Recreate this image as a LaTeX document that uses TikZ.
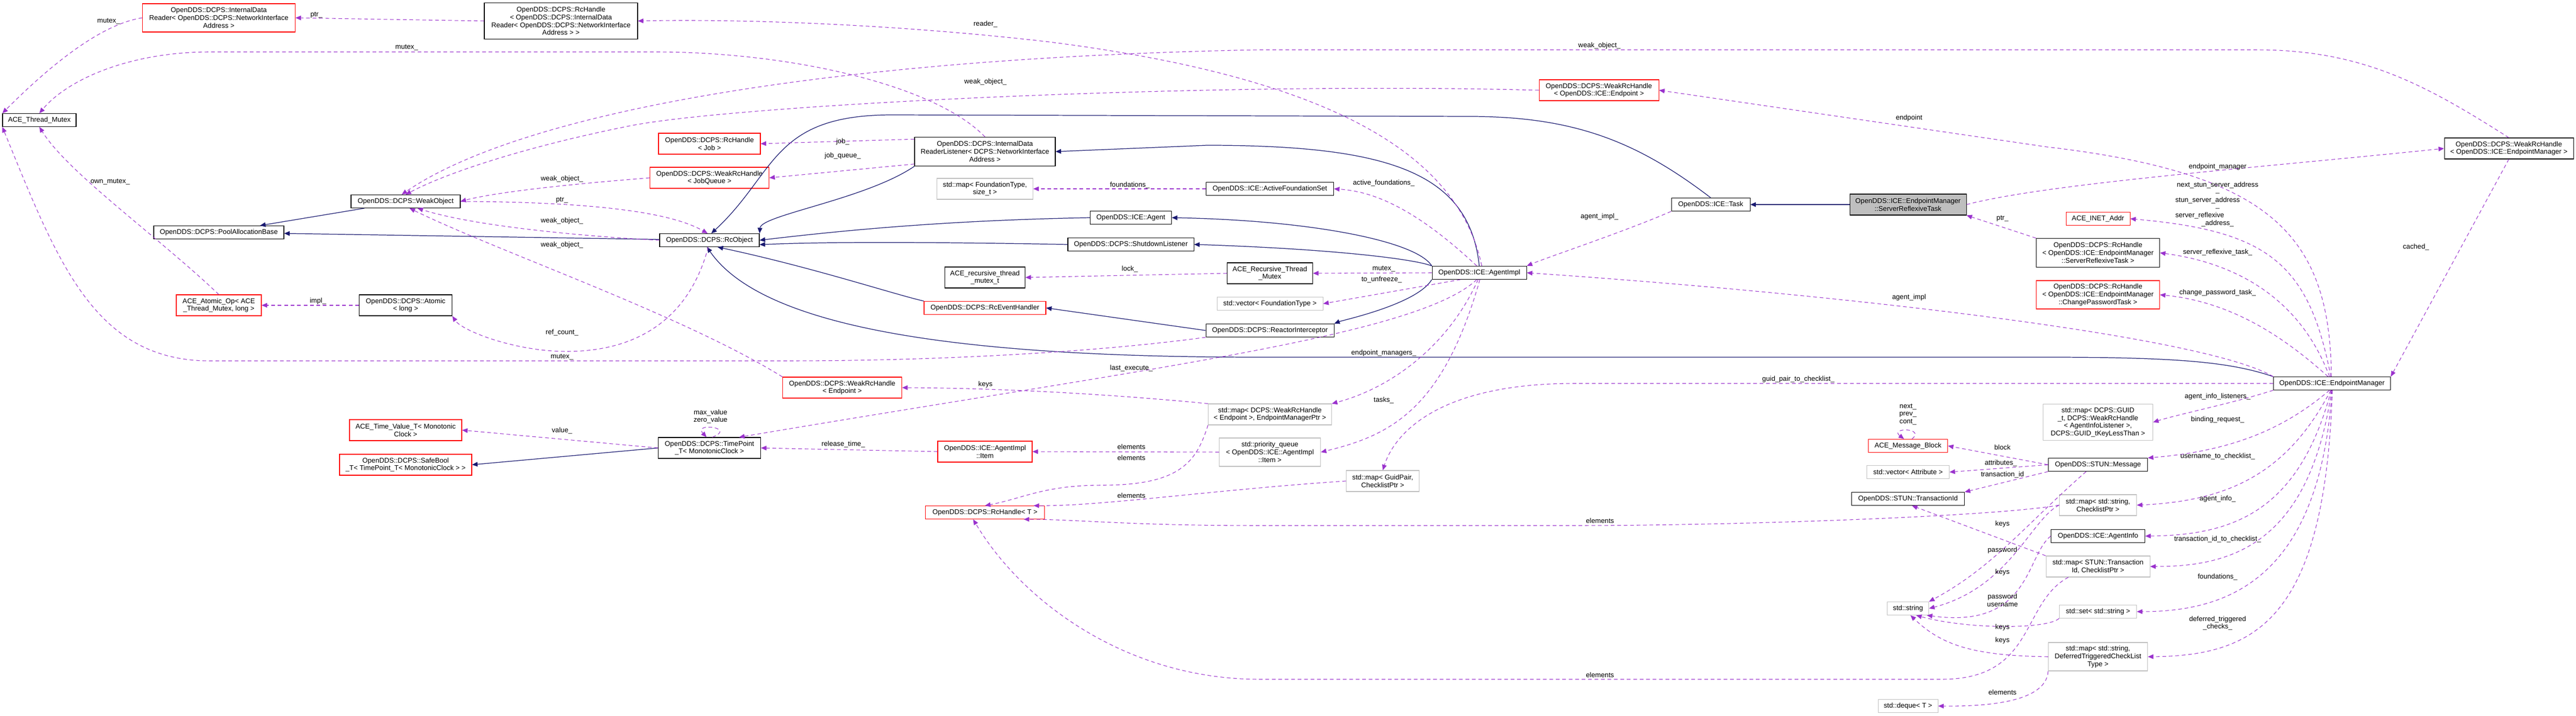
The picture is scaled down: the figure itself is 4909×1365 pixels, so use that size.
\documentclass[tikz,border=0pt]{standalone}
\usepackage{fontspec}
\setmainfont{Liberation Sans}
\usetikzlibrary{arrows.meta}
\definecolor{navy}{HTML}{191970}
\definecolor{purp}{HTML}{9A32CD}
\definecolor{gborder}{HTML}{BFBFBF}
\newcommand\ff{\fontsize{7.5}{8.4}\selectfont}
\tikzset{
 bw/.style={minimum width=#1*0.02cm},
 bh/.style={minimum height=#1*0.02cm},
 kbox/.style={draw=black, fill=white, font=\ff, align=center, inner sep=1pt, line width=0.6pt, minimum height=0.5cm},
 rbox/.style={kbox, draw=red},
 gbox/.style={kbox, draw=gborder},
 inh/.style={draw=navy, line width=0.7pt, -{Triangle[length=6pt,width=5pt]}},
 use/.style={draw=purp, line width=0.6pt, dash pattern=on 4pt off 3pt, -{Triangle[length=6pt,width=5pt]}},
 lab/.style={font=\ff, inner sep=0pt, align=center},
}
\begin{document}
\begin{tikzpicture}[x=0.02cm,y=-0.02cm]
\useasboundingbox[fill=white] (0,0) rectangle (4909,1365);
% nodes
\node[rbox,bw=291,bh=54] (idr) at (417,34) {OpenDDS::DCPS::InternalData\\Reader< OpenDDS::DCPS::NetworkInterface\\Address >};
\node[kbox,bw=140] (atm) at (75,229) {ACE\_Thread\_Mutex};
\node[kbox,bw=208] (wo) at (773,384) {OpenDDS::DCPS::WeakObject};
\node[kbox,bw=248] (pab) at (417,443) {OpenDDS::DCPS::PoolAllocationBase};
\node[rbox,bw=162,bh=40] (aop) at (417,582) {ACE\_Atomic\_Op< ACE\\\_Thread\_Mutex, long >};
\node[kbox,bw=177,bh=40] (atomic) at (773,582) {OpenDDS::DCPS::Atomic\\< long >};
\node[rbox,bw=214,bh=40] (tvt) at (773,820) {ACE\_Time\_Value\_T< Monotonic\\Clock >};
\node[rbox,bw=252,bh=40] (sbool) at (773,886) {OpenDDS::DCPS::SafeBool\\\_T< TimePoint\_T< MonotonicClock > >};
\node[kbox,bw=292,bh=69] (rhidr) at (1069,40) {OpenDDS::DCPS::RcHandle\\< OpenDDS::DCPS::InternalData\\Reader< OpenDDS::DCPS::NetworkInterface\\Address > >};
\node[rbox,bw=194,bh=40] (rhjob) at (1352,274) {OpenDDS::DCPS::RcHandle\\< Job >};
\node[rbox,bw=227,bh=40] (wrjq) at (1352,339) {OpenDDS::DCPS::WeakRcHandle\\< JobQueue >};
\node[kbox,bw=190] (rco) at (1352,458) {OpenDDS::DCPS::RcObject};
\node[kbox,bw=195,bh=40] (tp) at (1352,854) {OpenDDS::DCPS::TimePoint\\\_T< MonotonicClock >};
\node[rbox,bw=227,bh=40] (wreh) at (1605,739) {OpenDDS::DCPS::WeakRcHandle\\< Endpoint >};
\node[kbox,bw=268,bh=55] (idrl) at (1877,289) {OpenDDS::DCPS::InternalData\\ReaderListener< DCPS::NetworkInterface\\Address >};
\node[gbox,bw=183,bh=40] (mapft) at (1877,360) {std::map< FoundationType,\\size\_t >};
\node[kbox,bw=153,bh=40] (artmt) at (1877,529) {ACE\_recursive\_thread\\\_mutex\_t};
\node[rbox,bw=232] (reh) at (1877,587) {OpenDDS::DCPS::RcEventHandler};
\node[rbox,bw=180,bh=40] (item) at (1877,861) {OpenDDS::ICE::AgentImpl\\::Item};
\node[rbox,bw=227] (rht) at (1877,977) {OpenDDS::DCPS::RcHandle< T >};
\node[kbox,bw=243] (afs) at (2420,360) {OpenDDS::ICE::ActiveFoundationSet};
\node[kbox,bw=155] (agent) at (2155,415) {OpenDDS::ICE::Agent};
\node[kbox,bw=240] (shut) at (2155,466) {OpenDDS::DCPS::ShutdownListener};
\node[kbox,bw=163,bh=40] (artm) at (2420,521) {ACE\_Recursive\_Thread\\\_Mutex};
\node[gbox,bw=202] (vecft) at (2420,579) {std::vector< FoundationType >};
\node[kbox,bw=244] (reactor) at (2420,630) {OpenDDS::DCPS::ReactorInterceptor};
\node[kbox,bw=180] (aimpl) at (2819,520) {OpenDDS::ICE::AgentImpl};
\node[rbox,bw=228,bh=40] (wrei) at (3047,172) {OpenDDS::DCPS::WeakRcHandle\\< OpenDDS::ICE::Endpoint >};
\node[gbox,bw=235,bh=40] (mapwr) at (2420,790) {std::map< DCPS::WeakRcHandle\\< Endpoint >, EndpointManagerPtr >};
\node[gbox,bw=193,bh=54] (pq) at (2420,862) {std::priority\_queue\\< OpenDDS::ICE::AgentImpl\\::Item >};
\node[gbox,bw=139,bh=40] (mapgp) at (2635,917) {std::map< GuidPair,\\ChecklistPtr >};
\node[kbox,bw=150] (task) at (3260,390) {OpenDDS::ICE::Task};
\node[kbox,bw=222,bh=40,fill=gborder] (srt) at (3636,390) {OpenDDS::ICE::EndpointManager\\::ServerReflexiveTask};
\node[rbox,bw=122] (inet) at (3998,417) {ACE\_INET\_Addr};
\node[kbox,bw=235,bh=55] (rhsrt) at (3998,482) {OpenDDS::DCPS::RcHandle\\< OpenDDS::ICE::EndpointManager\\::ServerReflexiveTask >};
\node[rbox,bw=235,bh=54] (rhcpt) at (3998,562) {OpenDDS::DCPS::RcHandle\\< OpenDDS::ICE::EndpointManager\\::ChangePasswordTask >};
\node[rbox,bw=151] (amb) at (3636,850) {ACE\_Message\_Block};
\node[gbox,bw=157] (vattr) at (3636,900) {std::vector< Attribute >};
\node[kbox,bw=215] (tid) at (3636,951) {OpenDDS::STUN::TransactionId};
\node[gbox,bw=79] (str) at (3636,1160) {std::string};
\node[gbox,bw=114] (deq) at (3636,1346) {std::deque< T >};
\node[gbox,bw=209,bh=69] (mapguid) at (3998,805) {std::map< DCPS::GUID\\\_t, DCPS::WeakRcHandle\\< AgentInfoListener >,\\DCPS::GUID\_tKeyLessThan >};
\node[kbox,bw=189] (msg) at (3998,886) {OpenDDS::STUN::Message};
\node[gbox,bw=147,bh=40] (mapsc) at (3998,963) {std::map< std::string,\\ChecklistPtr >};
\node[kbox,bw=179] (ainfo) at (3998,1022) {OpenDDS::ICE::AgentInfo};
\node[gbox,bw=198,bh=40] (mapstun) at (3998,1080) {std::map< STUN::Transaction\\Id, ChecklistPtr >};
\node[gbox,bw=147] (setstr) at (3998,1166) {std::set< std::string >};
\node[gbox,bw=189,bh=54] (mapdef) at (3998,1252) {std::map< std::string,\\DeferredTriggeredCheckList\\Type >};
\node[kbox,bw=246,bh=40] (wrem) at (4781,283) {OpenDDS::DCPS::WeakRcHandle\\< OpenDDS::ICE::EndpointManager >};
\node[kbox,bw=223] (em) at (4444,731) {OpenDDS::ICE::EndpointManager};
% inheritance
\draw[inh] (wo) -- (pab);
\draw[inh] (rco) -- (pab);
\draw[inh] (idrl.south west) .. controls (1650,380) and (1450,410) .. (rco.north east);
\draw[inh] (agent.west) .. controls (1800,420) and (1600,440) .. (rco.east);
\draw[inh] (shut.west) .. controls (1800,462) and (1600,460) .. (rco.-5);
\draw[inh] (reh.north west) .. controls (1700,560) and (1550,510) .. (rco.-40);
\draw[inh] (task.north) .. controls (3120,270) and (3000,222) .. (2800,222) -- (1700,219) .. controls (1470,219) and (1480,330) .. (rco.75);
\draw[inh] (em.north west) .. controls (4250,690) and (4150,681) .. (3900,681) -- (2400,681) .. controls (1800,681) and (1450,620) .. (rco.-110);
\draw[inh] (aimpl.north) .. controls (2800,330) and (2650,277) .. (2300,277) -- (idrl.east);
\draw[inh] (aimpl.north west) .. controls (2700,460) and (2500,420) .. (agent.east);
\draw[inh] (aimpl.north west) .. controls (2700,495) and (2550,475) .. (shut.east);
\draw[inh] (aimpl.south west) .. controls (2700,580) and (2560,610) .. (reactor.north east);
\draw[inh] (reactor.west) -- (reh.east);
\draw[inh] (srt.west) -- (task.east);
\draw[inh] (tp.west) -- (sbool.east);
% usage
\draw[use] (idr.west) .. controls (200,45) and (110,110) .. (atm.north west);
\draw[use] (idrl.north) .. controls (1780,160) and (1500,99) .. (1250,99) -- (400,99) .. controls (250,99) and (130,150) .. (atm.north);
\draw[use] (aop.north) .. controls (300,450) and (130,330) .. (atm.south);
\draw[use] (atomic.west) -- (aop.east);
\draw[use] (rco.-100) .. controls (1310,620) and (1200,670) .. (1080,670) .. controls (980,670) and (880,630) .. (atomic.south east);
\draw[use] (reactor.south west) .. controls (2100,670) and (1800,688) .. (1500,688) -- (400,688) .. controls (180,688) and (110,500) .. (atm.south west);
\draw[use] (wo.east) .. controls (1100,385) and (1270,400) .. (rco.105);
\draw[use] (rco.west) .. controls (1100,450) and (900,430) .. (wo.-30);
\draw[use] (wrjq.west) .. controls (1100,350) and (950,365) .. (wo.east);
\draw[use] (wreh.north west) .. controls (1300,600) and (950,480) .. (wo.-60);
\draw[use] (wrei.west) .. controls (2300,155) and (1400,200) .. (1200,240) .. controls (1000,280) and (850,330) .. (wo.north);
\draw[use] (wrem.north) .. controls (4620,160) and (4500,95) .. (4300,95) -- (2400,95) .. controls (1600,110) and (1000,210) .. (wo.120);
\draw[use] (rhidr.west) -- (idr.east);
\draw[use] (aimpl.70) .. controls (2780,300) and (2550,150) .. (2000,80) .. controls (1700,45) and (1400,36) .. (rhidr.east);
\draw[use] (idrl.170) -- (rhjob.east);
\draw[use] (idrl.190) -- (wrjq.east);
\draw[use] (afs.west) -- (mapft.east);
\draw[use] (aimpl.110) .. controls (2700,400) and (2620,365) .. (afs.east);
\draw[use] (artm.west) -- (artmt.east);
\draw[use] (aimpl.west) -- (artm.east);
\draw[use] (aimpl.-160) -- (vecft.east);
\draw[use] (aimpl.-110) .. controls (2700,640) and (2200,700) .. (tp.20);
\draw[use] (aimpl.-100) .. controls (2760,660) and (2650,740) .. (mapwr.north east);
\draw[use] (aimpl.-85) .. controls (2750,780) and (2650,830) .. (pq.east);
\draw[use] (mapwr.north west) .. controls (2100,750) and (1900,740) .. (wreh.east);
\draw[use] (mapwr.south west) .. controls (2280,880) and (2250,925) .. (2100,925) .. controls (1990,925) and (1950,950) .. (rht.north);
\draw[use] (pq.west) -- (item.east);
\draw[use] (item.west) -- (tp.east);
\draw[use] (tp.75) .. controls (1405,815) and (1320,805) .. (tp.105);
\draw[use] (tp.west) -- (tvt.east);
\draw[use] (mapgp.west) .. controls (2300,935) and (2100,965) .. (rht.8);
\draw[use] (mapsc.west) .. controls (3800,985) and (3300,1002) .. (3000,1002) -- (2400,1002) .. controls (2150,1002) and (2050,990) .. (rht.-10);
\draw[use] (mapstun.200) .. controls (3850,1150) and (3880,1295) .. (3700,1295) -- (2400,1295) .. controls (2150,1295) and (1950,1150) .. (rht.-150);
\draw[use] (msg.west) -- (amb.east);
\draw[use] (msg.west) -- (vattr.east);
\draw[use] (msg.south west) -- (tid.north east);
\draw[use] (mapstun.north west) -- (tid.-60);
\draw[use] (msg.-150) .. controls (3860,1000) and (3800,1080) .. (str.north east);
\draw[use] (mapsc.west) .. controls (3870,990) and (3830,1120) .. (str.east);
\draw[use] (ainfo.west) .. controls (3860,1060) and (3870,1200) .. (str.-20);
\draw[use] (setstr.south west) .. controls (3900,1200) and (3750,1200) .. (str.-40);
\draw[use] (mapdef.west) .. controls (3760,1250) and (3700,1230) .. (str.-70);
\draw[use] (mapdef.south west) .. controls (3900,1335) and (3800,1347) .. (deq.east);
\draw[use] (amb.60) .. controls (3670,815) and (3600,815) .. (amb.120);
\draw[use] (em.west) -- (3000,731) .. controls (2750,731) and (2660,820) .. (mapgp.north);
\draw[use] (em.north west) .. controls (4200,640) and (3500,560) .. (aimpl.east);
\draw[use] (task.south west) .. controls (3100,440) and (2950,490) .. (aimpl.north east);
\draw[use] (wrem.south) -- (em.north east);
\draw[use] (srt.east) .. controls (3900,350) and (4300,320) .. (wrem.west);
\draw[use] (em.95) .. controls (4440,450) and (4330,330) .. (3900,280) -- (wrei.east);
\draw[use] (em.100) .. controls (4400,500) and (4320,440) .. (inet.east);
\draw[use] (em.110) .. controls (4380,560) and (4250,500) .. (rhsrt.east);
\draw[use] (em.120) .. controls (4350,640) and (4250,575) .. (rhcpt.east);
\draw[use] (rhsrt.north west) -- (srt.south east);
\draw[use] (em.south west) .. controls (4250,770) and (4150,790) .. (mapguid.east);
\draw[use] (em.-110) .. controls (4350,820) and (4250,860) .. (msg.north east);
\draw[use] (em.-100) .. controls (4360,900) and (4250,955) .. (mapsc.east);
\draw[use] (em.-97) .. controls (4380,980) and (4250,1020) .. (ainfo.east);
\draw[use] (em.-93) .. controls (4400,1040) and (4250,1080) .. (mapstun.east);
\draw[use] (em.-90) .. controls (4420,1100) and (4250,1166) .. (setstr.east);
\draw[use] (em.-87) .. controls (4430,1180) and (4300,1250) .. (mapdef.east);
% labels
\node[lab] (l1) at (603,29) {ptr\_};
\node[lab] (l2) at (207,41) {mutex\_};
\node[lab] (l3) at (775,91) {mutex\_};
\node[lab] (l4) at (210,347) {own\_mutex\_};
\node[lab] (l5) at (606,574) {impl\_};
\node[lab] (l6) at (1878,46) {reader\_};
\node[lab] (l7) at (1878,156) {weak\_object\_};
\node[lab] (l8) at (1606,270) {job\_};
\node[lab] (l9) at (1606,297) {job\_queue\_};
\node[lab] (l10) at (1071,341) {weak\_object\_};
\node[lab] (l11) at (1071,382) {ptr\_};
\node[lab] (l12) at (1071,421) {weak\_object\_};
\node[lab] (l13) at (1071,467) {weak\_object\_};
\node[lab] (l14) at (1071,634) {ref\_count\_};
\node[lab] (l15) at (1071,681) {mutex\_};
\node[lab] (l16) at (1878,733) {keys};
\node[lab] (l17) at (1354,794) {max\_value\\zero\_value};
\node[lab] (l18) at (1071,821) {value\_};
\node[lab] (l19) at (1607,847) {release\_time\_};
\node[lab] (l20) at (2153,353) {foundations\_};
\node[lab] (l21) at (2637,349) {active\_foundations\_};
\node[lab] (l22) at (2153,513) {lock\_};
\node[lab] (l23) at (2637,513) {mutex\_};
\node[lab] (l24) at (2633,533) {to\_unfreeze\_};
\node[lab] (l25) at (2637,673) {endpoint\_managers\_};
\node[lab] (l26) at (2156,702) {last\_execute\_};
\node[lab] (l27) at (2637,763) {tasks\_};
\node[lab] (l28) at (2156,852) {elements};
\node[lab] (l29) at (2156,873) {elements};
\node[lab] (l30) at (2156,945) {elements};
\node[lab] (l31) at (3048,87) {weak\_object\_};
\node[lab] (l32) at (3638,225) {endpoint};
\node[lab] (l33) at (3048,413) {agent\_impl\_};
\node[lab] (l34) at (3816,417) {ptr\_};
\node[lab] (l35) at (3638,567) {agent\_impl};
\node[lab] (l36) at (3427,723) {guid\_pair\_to\_checklist\_};
\node[lab] (l37) at (3636,790) {next\_\\prev\_\\cont\_};
\node[lab] (l38) at (3816,853) {block};
\node[lab] (l39) at (3813,883) {attributes\_};
\node[lab] (l40) at (3816,905) {transaction\_id};
\node[lab] (l41) at (3049,993) {elements};
\node[lab] (l42) at (3816,999) {keys};
\node[lab] (l43) at (3816,1049) {password};
\node[lab] (l44) at (3816,1091) {keys};
\node[lab] (l45) at (3816,1144) {password\\username};
\node[lab] (l46) at (3816,1196) {keys};
\node[lab] (l47) at (3816,1221) {keys};
\node[lab] (l48) at (3049,1287) {elements};
\node[lab] (l49) at (3816,1320) {elements};
\node[lab] (l50) at (4226,318) {endpoint\_manager};
\node[lab] (l51) at (4226,353) {next\_stun\_server\_address};
\node[lab] (l52) at (4226,368) {\_};
\node[lab] (l53) at (4207,382) {stun\_server\_address};
\node[lab] (l54) at (4226,397) {\_};
\node[lab] (l55) at (4192,411) {server\_reflexive};
\node[lab] (l56) at (4226,426) {\_address\_};
\node[lab] (l57) at (4226,481) {server\_reflexive\_task\_};
\node[lab] (l58) at (4226,558) {change\_password\_task\_};
\node[lab] (l59) at (4604,471) {cached\_};
\node[lab] (l60) at (4226,756) {agent\_info\_listeners\_};
\node[lab] (l61) at (4226,800) {binding\_request\_};
\node[lab] (l62) at (4226,870) {username\_to\_checklist\_};
\node[lab] (l63) at (4226,951) {agent\_info\_};
\node[lab] (l64) at (4226,1028) {transaction\_id\_to\_checklist\_};
\node[lab] (l65) at (4226,1100) {foundations\_};
\node[lab] (l66) at (4226,1188) {deferred\_triggered\\\_checks\_};
\end{tikzpicture}
\end{document}
